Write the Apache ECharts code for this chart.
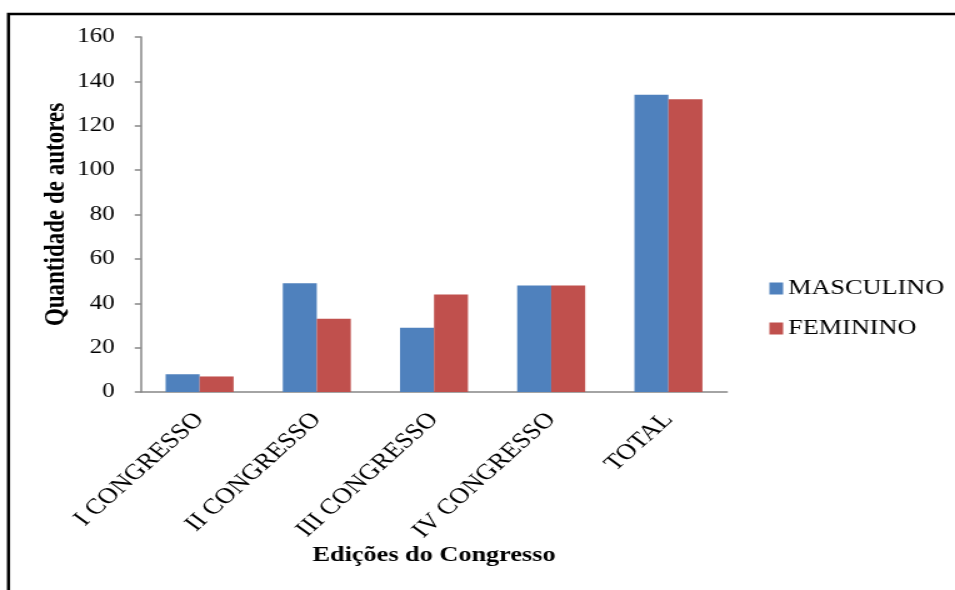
<!DOCTYPE html>
<html>
<head>
<meta charset="utf-8">
<script src="https://cdn.jsdelivr.net/npm/echarts@6/dist/echarts.min.js"></script>
<style>
  html, body { margin: 0; padding: 0; background: #fff; overflow: hidden; }
  /* the chart is laid out on a narrower canvas and widened horizontally */
  #chart { width: 764px; height: 590px; transform: scaleX(1.25); transform-origin: 0 0; }
</style>
</head>
<body>
<div id="chart"></div>
<script>
const categories = ['I CONGRESSO', 'II CONGRESSO', 'III CONGRESSO', 'IV CONGRESSO', 'TOTAL'];
const masculino = [8, 49, 29, 48, 134];
const feminino = [7, 33, 44, 48, 132];
const seriesNames = ['MASCULINO', 'FEMININO'];
const yTicks = { min: 0, max: 160, interval: 20 };

const serif = '"Liberation Serif", "Times New Roman", serif';
const chart = echarts.init(document.getElementById('chart'), null, { renderer: 'canvas' });

chart.setOption({
  animation: false,
  backgroundColor: '#ffffff',
  textStyle: { fontFamily: serif, color: '#000' },
  graphic: [{
    type: 'rect',
    shape: { x: 6.8, y: 14, width: 2000, height: 2000 },
    style: { fill: 'none', stroke: '#000', lineWidth: 2.5 },
    silent: true
  }],
  grid: { left: 112.8, right: 182.4, top: 37, bottom: 198, containLabel: false },
  legend: {
    orient: 'vertical',
    left: 610.5,
    top: 273,
    itemWidth: 11,
    itemHeight: 12,
    itemGap: 19,
    icon: 'rect',
    data: seriesNames,
    textStyle: { fontFamily: serif, fontSize: 21, color: '#000', padding: [0, 0, 0, -1] }
  },
  xAxis: {
    type: 'category',
    data: categories,
    name: 'Edições do Congresso',
    nameLocation: 'middle',
    nameGap: 153,
    nameMoveOverlap: false,
    nameTextStyle: { fontFamily: serif, fontSize: 21, fontWeight: 'bold', color: '#000' },
    axisLine: { lineStyle: { color: '#868686', width: 1.5 } },
    axisTick: { show: false },
    axisLabel: { rotate: 48, margin: 24, fontFamily: serif, fontSize: 22, color: '#000', interval: 0 }
  },
  yAxis: {
    type: 'value',
    min: yTicks.min,
    max: yTicks.max,
    interval: yTicks.interval,
    name: 'Quantidade de autores',
    nameLocation: 'middle',
    nameRotate: 90,
    nameGap: 56,
    nameMoveOverlap: false,
    nameTextStyle: { fontFamily: serif, fontSize: 23, fontWeight: 'bold', color: '#000' },
    axisLine: { show: true, lineStyle: { color: '#868686', width: 1.5 } },
    axisTick: { show: true, length: 5, lineStyle: { color: '#868686', width: 1.5 } },
    splitLine: { show: false },
    axisLabel: { margin: 21, fontFamily: serif, fontSize: 20, color: '#000' }
  },
  series: [
    {
      name: seriesNames[0],
      type: 'bar',
      data: masculino,
      barGap: '0%',
      barCategoryGap: '42%',
      itemStyle: { color: '#4F81BD' }
    },
    {
      name: seriesNames[1],
      type: 'bar',
      data: feminino,
      barGap: '0%',
      barCategoryGap: '42%',
      itemStyle: { color: '#C0504D' }
    }
  ]
});
</script>
</body>
</html>
